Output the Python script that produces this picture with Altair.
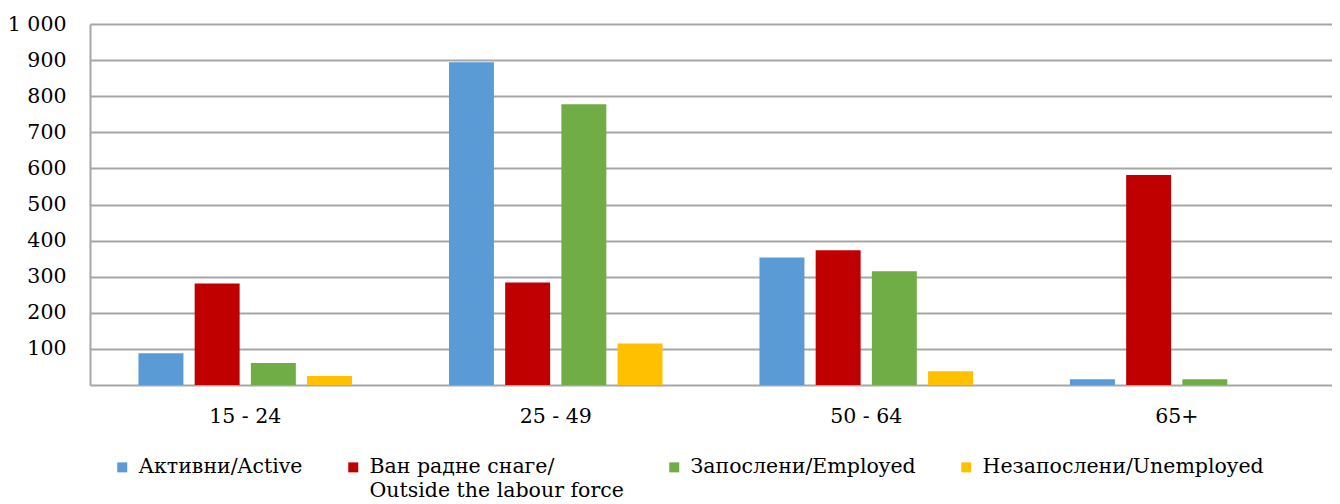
import altair as alt
import pandas as pd

ages = ["15 - 24", "25 - 49", "50 - 64", "65+"]
series = ["Активни/Active", "Ван радне снаге/ Outside the labour force",
          "Запослени/Employed", "Незапослени/Unemployed"]
active = [88, 894, 353, 16]
outside = [281, 284, 373, 582]
employed = [61, 778, 315, 16]
unemployed = [25, 115, 38, 0]
colors = ["#5B9BD5", "#C00000", "#70AD47", "#FFC000"]
y_ticks = [100, 200, 300, 400, 500, 600, 700, 800, 900, 1000]

rows = []
for vals, s in zip([active, outside, employed, unemployed], series):
    for a, v in zip(ages, vals):
        rows.append({"age": a, "series": s, "value": v})
df = pd.DataFrame(rows)

FONT = "DejaVu Serif"
FS = 20.5

chart = alt.Chart(df).mark_bar().encode(
    x=alt.X("age:N", sort=ages, title=None,
            scale=alt.Scale(paddingInner=0.276, paddingOuter=0.138),
            axis=alt.Axis(labelAngle=0, labelFont=FONT, labelFontSize=FS,
                          labelColor="black", labelPadding=21, ticks=False,
                          domainColor="#a6a6a6", domainWidth=2, grid=False)),
    xOffset=alt.XOffset("series:N", sort=series,
                        scale=alt.Scale(paddingInner=0.2, paddingOuter=0.1)),
    y=alt.Y("value:Q", title=None,
            scale=alt.Scale(domain=[0, 1000], nice=False),
            axis=alt.Axis(values=y_ticks, labelFont=FONT, labelFontSize=FS,
                          labelColor="black", labelPadding=24, ticks=False,
                          domainColor="#a6a6a6", domainWidth=2,
                          gridColor="#a6a6a6", gridWidth=2,
                          labelExpr="replace(format(datum.value, ',d'), ',', ' ')")),
    color=alt.Color("series:N", sort=series,
                    scale=alt.Scale(domain=series, range=colors),
                    legend=alt.Legend(title=None, orient="none", direction="horizontal",
                                      legendX=22, legendY=433,
                                      symbolType="square", symbolSize=100,
                                      symbolStrokeWidth=0, labelFont=FONT,
                                      labelFontSize=FS, labelColor="black",
                                      labelLimit=400, columnPadding=40,
                                      labelOffset=6,
                                      labelExpr="split(datum.label, '/ ').length > 1 ? ['Ван радне снаге/', 'Outside the labour force'] : [datum.label, ' ']")),
).properties(
    width=1242, height=361,
    autosize=alt.AutoSizeParams(type="none"),
    padding={"left": 82, "top": 16, "right": 0, "bottom": 119},
).configure(
    style={"guide-label": {"lineHeight": 24}}
).configure_view(stroke=None)

chart.save("out.html", embed_options={"renderer": "svg", "actions": False})
